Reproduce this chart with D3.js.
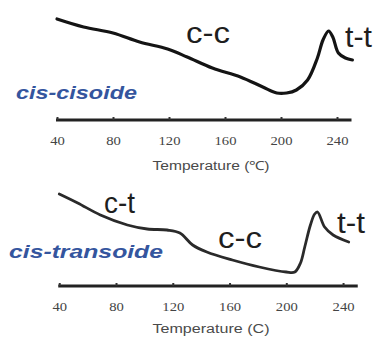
<!DOCTYPE html>
<html>
<head>
<meta charset="utf-8">
<script src="https://cdn.jsdelivr.net/npm/d3@7"></script>
<style>
  html, body { margin: 0; padding: 0; background: #fff; }
  svg { display: block; }
</style>
</head>
<body>
<svg id="chart" width="377" height="338"></svg>
<script>
// Axis ticks (°C) shared by both panels
const tempTicks = [40, 80, 120, 160, 200, 240];

// cis-cisoide trace: temperature (°C) vs. signal (arbitrary units)
const cisoideTemp   = [40, 59, 80, 99, 119, 133, 151, 171, 187, 197, 204, 211, 219, 226, 230, 234, 237, 241, 246, 251];
const cisoideSignal = [101, 93, 87, 78, 71, 63, 52, 43, 33, 27, 27, 30, 40, 62, 80, 89, 83, 67, 62, 60];

// cis-transoide trace: temperature (°C) vs. signal (arbitrary units)
const transoideTemp   = [40, 53, 69, 88, 102, 116, 125, 134, 144, 162, 181, 200, 206, 210, 213, 217, 220, 222, 227, 233, 244];
const transoideSignal = [92, 83, 71, 61, 57, 56, 53, 41, 34, 26, 19, 14, 14, 23, 39, 61, 72, 74, 59, 51, 44];

// Phase annotations for each trace
const cisoidePhases   = ["c-c", "t-t"];
const transoidePhases = ["c-t", "c-c", "t-t"];

const svg = d3.select("#chart");

const panels = [
  {
    name: "cis-cisoide", temps: cisoideTemp, signal: cisoideSignal,
    x0: 57, x1: 351, axisY: 120, nameX: 16, nameY: 99, nameLen: 121,
    titleText: "Temperature (\u2103)", titleY: 170,
    phases: cisoidePhases,
    phasePos: [[186, 43, 44], [345, 47, 27]],
    stroke: "#141414", strokeWidth: 3.2
  },
  {
    name: "cis-transoide", temps: transoideTemp, signal: transoideSignal,
    x0: 59.25, x1: 357.25, axisY: 286, nameX: 9, nameY: 258, nameLen: 154,
    titleText: "Temperature (C)", titleY: 333,
    phases: transoidePhases,
    phasePos: [[104, 213, 31], [218, 248, 44], [337, 233, 28]],
    stroke: "#2a2a2a", strokeWidth: 2.8
  }
];

panels.forEach(p => {
  const g = svg.append("g");
  const x = d3.scaleLinear().domain([40, 250]).range([p.x0, p.x1]);
  const y = d3.scaleLinear().domain([0, 100]).range([p.axisY, p.axisY - 100]);

  // Signal trace
  const pts = p.temps.map((t, i) => [t, p.signal[i]]);
  g.append("path")
    .datum(pts)
    .attr("fill", "none")
    .attr("stroke", p.stroke)
    .attr("stroke-width", p.strokeWidth)
    .attr("stroke-linecap", "round")
    .attr("stroke-linejoin", "round")
    .attr("d", d3.line().x(d => x(d[0])).y(d => y(d[1])).curve(d3.curveCatmullRom.alpha(0.5)));

  // Temperature axis
  const axis = d3.axisBottom(x)
    .tickValues(tempTicks)
    .tickSizeInner(-3)
    .tickSizeOuter(0)
    .tickPadding(16);
  const ag = g.append("g")
    .attr("transform", `translate(0,${p.axisY})`)
    .call(axis);
  ag.select(".domain")
    .attr("stroke", "#222")
    .attr("stroke-width", 3)
    .attr("d", `M${p.x0 - 1},0H${p.x1 + 0.5}`);
  ag.selectAll(".tick line").attr("stroke", "#333").attr("stroke-width", 2);
  ag.selectAll(".tick text")
    .attr("fill", "#444")
    .attr("font-family", "'Liberation Serif', 'Times New Roman', serif")
    .attr("font-size", 12)
    .attr("textLength", d => String(d).length * 7.3)
    .attr("lengthAdjust", "spacingAndGlyphs");

  // Axis title
  g.append("text")
    .attr("x", 211)
    .attr("y", p.titleY)
    .attr("text-anchor", "middle")
    .attr("fill", "#4a4a4a")
    .attr("font-family", "'Liberation Sans', Arial, sans-serif")
    .attr("font-size", 12.5)
    .attr("textLength", 117)
    .attr("lengthAdjust", "spacingAndGlyphs")
    .text(p.titleText);

  // Conformer name
  g.append("text")
    .attr("x", p.nameX)
    .attr("y", p.nameY)
    .attr("fill", "#34559e")
    .attr("font-family", "'Liberation Sans', Arial, sans-serif")
    .attr("font-weight", "bold")
    .attr("font-style", "italic")
    .attr("font-size", 18)
    .attr("textLength", p.nameLen)
    .attr("lengthAdjust", "spacingAndGlyphs")
    .text(p.name);

  // Phase labels
  p.phases.forEach((label, i) => {
    const [lx, ly, lw] = p.phasePos[i];
    g.append("text")
      .attr("x", lx)
      .attr("y", ly)
      .attr("fill", "#1e1e1e")
      .attr("font-family", "'Liberation Sans', Arial, sans-serif")
      .attr("font-size", 30)
      .attr("textLength", lw)
      .attr("lengthAdjust", "spacingAndGlyphs")
      .text(label);
  });
});
</script>
</body>
</html>
